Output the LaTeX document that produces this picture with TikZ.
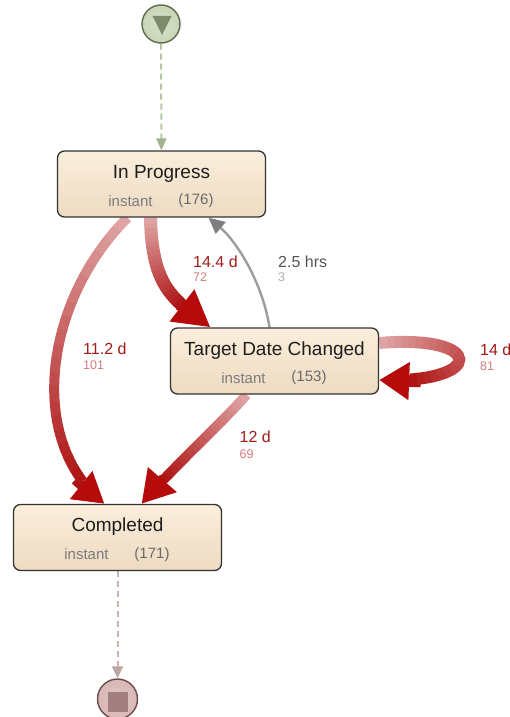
\documentclass[tikz,border=0pt]{standalone}
\usepackage{fontspec}
\setmainfont{Liberation Sans}
\usetikzlibrary{arrows.meta,decorations.markings,calc}

\definecolor{boxtop}{HTML}{FBEEDC}
\definecolor{boxbot}{HTML}{EDDBC1}
\definecolor{boxline}{HTML}{333333}
\definecolor{titletext}{HTML}{1E1E1E}
\definecolor{metatext}{HTML}{7C7C7C}
\definecolor{counttext}{HTML}{6A6A6A}
\definecolor{labdark}{HTML}{A31B1B}
\definecolor{lablight}{HTML}{D47C7C}
\definecolor{graylab}{HTML}{555555}
\definecolor{graysub}{HTML}{ABABAB}
\definecolor{flowstart}{HTML}{E0A6A6}
\definecolor{flowend}{HTML}{AE1313}
\definecolor{headred}{HTML}{B60B0B}
\definecolor{graylink}{HTML}{9C9C9C}
\definecolor{grayhead}{HTML}{7E7E7E}
\definecolor{startfill}{HTML}{C9D5B5}
\definecolor{startline}{HTML}{5E6C4E}
\definecolor{starttri}{HTML}{7D8A6B}
\definecolor{startlink}{HTML}{B6C6A3}
\definecolor{endfill}{HTML}{D8B6B4}
\definecolor{endline}{HTML}{6E4C4C}
\definecolor{endsq}{HTML}{A27E7E}
\definecolor{endlink}{HTML}{CDB5B1}

\pgfdeclarelayer{background}
\pgfsetlayers{background,main}

\tikzset{
  box/.style={draw=boxline, line width=1.3pt, rounded corners=7pt,
    minimum width=208pt, minimum height=66pt, inner sep=0pt,
    top color=boxtop, bottom color=boxbot},
  boxtitle/.style={font=\fontsize{19}{22}\selectfont, text=titletext, inner sep=0pt},
  boxmeta/.style={font=\fontsize{15}{18}\selectfont, text=metatext, inner sep=0pt},
  boxcount/.style={font=\fontsize{15}{18}\selectfont, text=counttext, inner sep=0pt},
  flowlab/.style={font=\fontsize{16}{19}\selectfont, text=labdark, anchor=west, inner sep=0pt},
  flowsub/.style={font=\fontsize{12.5}{15}\selectfont, text=lablight, anchor=west, inner sep=0pt},
  graylabel/.style={font=\fontsize{16}{19}\selectfont, text=graylab, anchor=west, inner sep=0pt},
  graysublabel/.style={font=\fontsize{12.5}{15}\selectfont, text=graysub, anchor=west, inner sep=0pt},
  startnode/.style={circle, draw=startline, line width=1.4pt, minimum size=38pt,
    inner sep=0pt, inner color=startfill!70!white, outer color=startfill},
  endnode/.style={circle, draw=endline, line width=1.4pt, minimum size=40pt,
    inner sep=0pt, inner color=endfill!75!white, outer color=endfill},
  startedge/.style={draw=startlink, line width=2pt, dash pattern=on 6pt off 4pt,
    -{Triangle[length=12pt,width=10pt,fill=startlink!90!black,color=startlink!90!black]}},
  endedge/.style={draw=endlink, line width=2pt, dash pattern=on 6pt off 4pt,
    -{Triangle[length=12pt,width=11pt,fill=endlink!92!black,color=endlink!92!black]}},
  backedge/.style={draw=graylink, line width=2.4pt,
    -{Triangle[length=16pt,width=15pt,fill=grayhead,color=grayhead]}},
}

% A thick edge whose colour runs from flowstart at its tail to flowend at its head.
% The stroke is cut into short consecutive pieces, each in its own shade.
% #1 line width, #2 tip length, #3 tip width, #4 path
\newcommand\flowedge[4]{%
  \path[decorate,decoration={markings,mark=at position 0.5 with
    {\pgfmathsetmacro\flowtmp{\pgfdecoratedpathlength}\global\let\flowlen\flowtmp}}] #4;
  \pgfmathsetmacro\flowreach{\flowlen-#2-2}
  \draw[line width=#1pt, flowend, dash pattern=on 0pt off \flowreach pt on 5000pt,
    -{Triangle[length=#2pt,width=#3pt,fill=headred,color=headred]}] #4;
  \foreach \k in {1,...,20} {
    \pgfmathsetlengthmacro\flowfrom{max(\flowreach*(20-\k)/20,0.01)}
    \pgfmathsetlengthmacro\flowpiece{\flowreach/20+0.9}
    \pgfmathtruncatemacro\flowmix{100*(20.5-\k)/20}
    \draw[line width=#1pt, color=flowend!\flowmix!flowstart,
      dash pattern=on 0pt off \flowfrom on \flowpiece off 9000pt] #4;
  }
}

\begin{document}
\begin{tikzpicture}[x=1pt,y=-1pt]
\useasboundingbox (0,0) rectangle (510,717);

% states
\node[box] (ip)   at (161.5,184)   {};
\node[box] (tdc)  at (274.5,361)   {};
\node[box] (comp) at (117.5,537.5) {};

\node[boxtitle] (ipt)   at ($(ip.center)+(0,-10)$)   {In Progress};
\node[boxmeta]  (ipm)   at ($(ip.center)+(-31,17)$)  {instant};
\node[boxcount] (ipc)   at ($(ip.center)+(34.5,17)$) {(176)};

\node[boxtitle] (tdct)  at ($(tdc.center)+(0,-10)$)   {Target Date Changed};
\node[boxmeta]  (tdcm)  at ($(tdc.center)+(-31,17)$)  {instant};
\node[boxcount] (tdcc)  at ($(tdc.center)+(34.5,17)$) {(153)};

\node[boxtitle] (compt) at ($(comp.center)+(0,-11)$)   {Completed};
\node[boxmeta]  (compm) at ($(comp.center)+(-31,17)$)  {instant};
\node[boxcount] (compc) at ($(comp.center)+(34.5,17)$) {(171)};

% start and end markers
\node[startnode] (start) at (161,24) {};
\fill[starttri] (152.5,16) -- (171.5,16) -- (162,35) -- cycle;
\node[endnode] (end) at (117.5,699) {};
\fill[endsq] (107.5,691.5) rectangle (127.5,711.5);

% transitions
\begin{pgfonlayer}{background}
  \draw[startedge] (start) -- (ip);
  \draw[endedge] (comp) -- (end);

  \flowedge{10}{30}{34}{([xshift=-34pt]ip.south) .. controls (45,300) and (25,440) .. ([xshift=-13pt]comp.north)}
  \flowedge{13}{36}{38}{([xshift=-11pt]ip.south) .. controls (152,290) and (175,300) .. ([xshift=-64pt]tdc.north)}
  \flowedge{12}{30}{36}{([yshift=18pt]tdc.east) .. controls (486,334) and (486,384) .. ([yshift=-19pt]tdc.east)}
  \flowedge{10}{32}{36}{([xshift=-28pt]tdc.south) .. controls (225,420) and (175,465) .. ([xshift=24pt]comp.north)}

  \draw[backedge] ([xshift=-5pt]tdc.north) .. controls (262,280) and (235,240) .. ([xshift=47pt]ip.south);
\end{pgfonlayer}

% transition labels
\node[flowlab] (l1)  at (83,349)    {11.2 d};
\node[flowsub] (l1s) at (83,365.5)  {101};
\node[flowlab] (l2)  at (193,261.5) {14.4 d};
\node[flowsub] (l2s) at (193,277)   {72};
\node[graylabel]    (l3)  at (278,261.5) {2.5 hrs};
\node[graysublabel] (l3s) at (278,277)   {3};
\node[flowlab] (l4)  at (480,350)   {14 d};
\node[flowsub] (l4s) at (480,366.5) {81};
\node[flowlab] (l5)  at (239.5,437) {12 d};
\node[flowsub] (l5s) at (239.5,454) {69};
\end{tikzpicture}
\end{document}
